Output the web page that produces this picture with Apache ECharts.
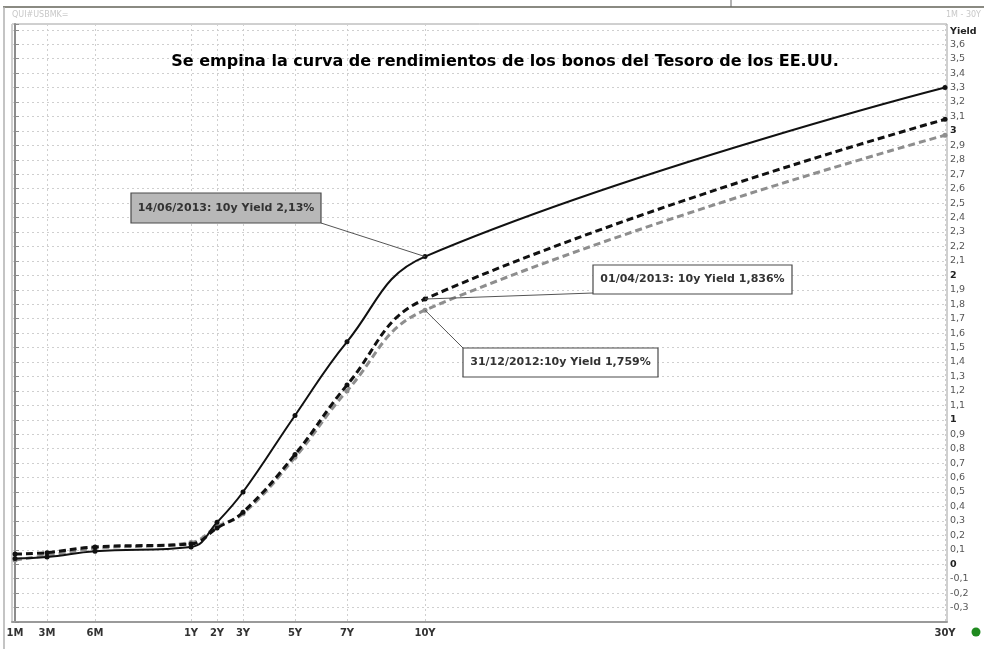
<!DOCTYPE html>
<html><head><meta charset="utf-8">
<script src="https://cdn.jsdelivr.net/npm/echarts@6/dist/echarts.min.js"></script>
<style>html,body{margin:0;padding:0;background:#fff}#c{width:984px;height:649px}</style>
</head><body><div id="c"></div>
<script>
// ---- data ----
const tenorLabels = ['1M','3M','6M','1Y','2Y','3Y','5Y','7Y','10Y','30Y'];
const tenorMonths = [1, 3, 6, 12, 24, 36, 60, 84, 120, 360];
const yield20121231 = [0.03, 0.06, 0.11, 0.15, 0.26, 0.35, 0.74, 1.20, 1.759, 2.97];
const yield20130401 = [0.07, 0.08, 0.12, 0.14, 0.25, 0.36, 0.76, 1.24, 1.836, 3.08];
const yield20130614 = [0.04, 0.05, 0.09, 0.12, 0.29, 0.50, 1.03, 1.54, 2.13, 3.30];
const seriesNames = ['31/12/2012', '01/04/2013', '14/06/2013'];
const annotationTexts = ['31/12/2012:10y Yield 1,759%', '01/04/2013: 10y Yield 1,836%', '14/06/2013: 10y Yield 2,13%'];
const titleText = 'Se empina la curva de rendimientos de los bonos del Tesoro de los EE.UU.';
const yLabelMin = -0.3, yLabelMax = 3.6;

// piecewise maturity scale (months stretched below 1Y, linear in years above)
function scalePos(m) { return m <= 12 ? (m - 1) * 16 : 176 + (m - 12) / 12 * 26; }
const tickVals = tenorMonths.map(scalePos);
function pairs(vals) { return tenorMonths.map((m, i) => [scalePos(m), vals[i]]); }

const chart = echarts.init(document.getElementById('c'), null, {renderer: 'canvas'});
const FONT = '"DejaVu Sans", Verdana, sans-serif';

function fmtY(v) {
  const r = Math.round(v * 10) / 10;
  if (r < yLabelMin - 1e-6 || r > yLabelMax + 1e-6 || Math.abs(v - r) > 1e-6) return '';
  const s = String(r).replace('.', ',');
  return Number.isInteger(r) ? '{b|' + s + '}' : s;
}

const lineSeries = (name, vals, color, width, dash, z) => ({
  name, type: 'line', data: pairs(vals), smooth: 0.42,
  symbol: 'circle', symbolSize: 5, showSymbol: true, z,
  itemStyle: {color: color},
  lineStyle: {color: color, width: width, type: dash},
  emphasis: {disabled: true}, silent: true
});

chart.setOption({
  animation: false,
  backgroundColor: '#fff',
  grid: {left: 12, right: 37, top: 24, bottom: 27, show: true, borderColor: '#a0a0a0', borderWidth: 1},
  xAxis: {
    type: 'value', min: -3, max: 932,
    axisLine: {show: true, onZero: false, lineStyle: {color: '#9a9a9a', width: 2}},
    axisTick: {show: false, customValues: tickVals.slice(1)},
    axisLabel: {
      customValues: tickVals, margin: 6, fontSize: 10, fontWeight: 'bold', color: '#333', fontFamily: FONT,
      formatter: v => { const i = tickVals.findIndex(t => Math.abs(t - v) < 0.5); return i >= 0 ? tenorLabels[i] : ''; }
    },
    splitLine: {show: true, lineStyle: {color: '#cfcfcf', type: [2, 3], width: 1}}
  },
  yAxis: {
    type: 'value', position: 'right', min: -0.4, max: 3.74, interval: 0.1,
    axisLine: {show: true, lineStyle: {color: '#8c8c8c', width: 2}},
    axisTick: {show: true, length: 4, lineStyle: {color: '#8c8c8c'}},
    axisLabel: {
      margin: 3, fontSize: 9.5, color: '#555', fontFamily: FONT, showMinLabel: true, showMaxLabel: true,
      formatter: fmtY, rich: {b: {fontWeight: 'bold', color: '#222', fontSize: 9.5, fontFamily: FONT}}
    },
    splitLine: {show: true, lineStyle: {color: '#cfcfcf', type: [2, 3], width: 1}}
  },
  series: [
    lineSeries(seriesNames[0], yield20121231, '#8e8e8e', 3, [7, 4], 2),
    lineSeries(seriesNames[1], yield20130401, '#111', 3, [7, 4], 3),
    lineSeries(seriesNames[2], yield20130614, '#111', 2, 'solid', 4)
  ]
});

// ---- annotations anchored to the 10Y points ----
const i10 = tenorLabels.indexOf('10Y');
const px = vals => chart.convertToPixel({gridIndex: 0}, [scalePos(tenorMonths[i10]), vals[i10]]);
const p0 = px(yield20121231), p1 = px(yield20130401), p2 = px(yield20130614);

function box(x, y, w, h, fill, text) {
  return [
    {type: 'rect', shape: {x: x, y: y, width: w, height: h}, style: {fill: fill, stroke: '#4a4a4a', lineWidth: 1.2}, z: 20},
    {type: 'text', x: x + w / 2, y: y + h / 2, style: {text: text, fill: '#333', font: 'bold 11px ' + FONT, align: 'center', verticalAlign: 'middle'}, z: 21}
  ];
}
const leader = (a, b) => ({type: 'line', shape: {x1: a[0], y1: a[1], x2: b[0], y2: b[1]}, style: {stroke: '#555', lineWidth: 1}, z: 19});

chart.setOption({
  graphic: [
    // frame
    {type: 'line', shape: {x1: 3, y1: 7, x2: 984, y2: 7}, style: {stroke: '#8a8a82', lineWidth: 2}, z: 30},
    {type: 'line', shape: {x1: 4, y1: 7, x2: 4, y2: 649}, style: {stroke: '#b0b0b0', lineWidth: 1.5}, z: 30},
    {type: 'line', shape: {x1: 731, y1: 0, x2: 731, y2: 7}, style: {stroke: '#666', lineWidth: 1}, z: 30},
    {type: 'text', x: 12, y: 15, style: {text: 'QUI#USBMK=', fill: '#c8c8c8', font: '8px ' + FONT, verticalAlign: 'middle'}, z: 30},
    {type: 'text', x: 981, y: 15, style: {text: '1M - 30Y', fill: '#c8c8c8', font: '8px ' + FONT, align: 'right', verticalAlign: 'middle'}, z: 30},
    {type: 'text', x: 950, y: 32, style: {text: 'Yield', fill: '#222', font: 'bold 9.5px ' + FONT, verticalAlign: 'middle'}, z: 30},
    {type: 'circle', shape: {cx: 976, cy: 632, r: 4.5}, style: {fill: '#1f8a1f'}, z: 30},
    // title
    {type: 'text', x: 505, y: 62, style: {text: titleText, fill: '#000', font: 'bold 16px ' + FONT, align: 'center', verticalAlign: 'middle'}, z: 30},
    // annotations
    leader([321, 223], p2), ...box(131, 193, 190, 30, '#b8b8b8', annotationTexts[2]),
    leader(p1, [593, 293]), ...box(593, 265, 199, 29, '#fff', annotationTexts[1]),
    leader(p0, [463, 348]), ...box(463, 348, 195, 29, '#fff', annotationTexts[0])
  ]
});
</script>
</body></html>
